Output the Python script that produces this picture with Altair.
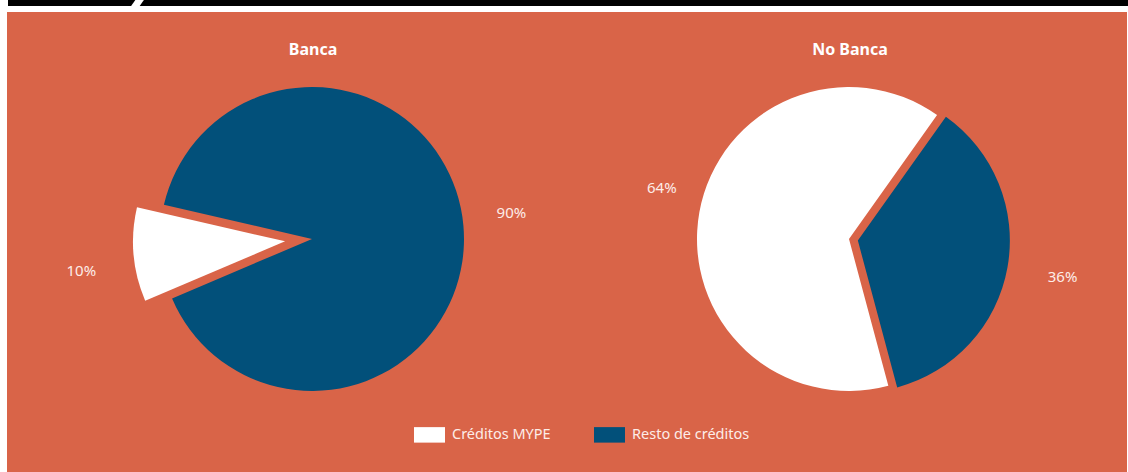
import math
import pandas as pd
import altair as alt

# ---- data ----
grupos = ["Banca", "No Banca"]
categorias = ["Créditos MYPE", "Resto de créditos"]
banca = [10, 90]
no_banca = [64, 36]
etiquetas_banca = ["10%", "90%"]
etiquetas_no_banca = ["64%", "36%"]

# ---- styling / layout ----
W, H = 1128, 472
ORANGE = "#D96448"
BLUE = "#02507A"
FONT = "Noto Sans, DejaVu Sans Condensed, sans-serif"
CENTROS = {"Banca": (312, 239), "No Banca": (849, 239)}
INICIO = {"Banca": 247.0, "No Banca": 165.0}      # start angle (deg, clockwise from 12h)
SEPARADO = {"Banca": (0, 27), "No Banca": (1, 9)}  # (exploded slice index, distance px)
RADIO = 152
# label placement tweaks per slice: (angle shift in deg, radius px)
ETIQ = {("Banca", 0): (-3.4, 206), ("Banca", 1): (-2.3, 201),
        ("No Banca", 0): (5.0, 194), ("No Banca", 1): (0.0, 208)}

rows = []
for g, vals, labs in [("Banca", banca, etiquetas_banca), ("No Banca", no_banca, etiquetas_no_banca)]:
    total = sum(vals)
    cum = 0.0
    cx, cy = CENTROS[g]
    start = math.radians(INICIO[g])
    for i, (cat, v, lab) in enumerate(zip(categorias, vals, labs)):
        a0 = start + cum / total * 2 * math.pi
        cum += v
        a1 = start + cum / total * 2 * math.pi
        mid = (a0 + a1) / 2
        d = SEPARADO[g][1] if SEPARADO[g][0] == i else 0
        shift, rl = ETIQ[(g, i)]
        rows.append({
            "grupo": g, "categoria": cat, "valor": v, "etiqueta": lab,
            "a0": a0, "a1": a1, "ang": mid + math.radians(shift), "rl": rl,
            "px": cx + d * math.sin(mid), "py": cy - d * math.cos(mid),
        })
df = pd.DataFrame(rows)

titulos = pd.DataFrame({"grupo": grupos,
                        "px": [CENTROS[g][0] + 1 for g in grupos],
                        "py": [55 for g in grupos]})

one = pd.DataFrame({"k": [0]})

fondo = alt.Chart(one).mark_rect(color=ORANGE).encode(
    x=alt.value(7), x2=alt.value(1127), y=alt.value(12), y2=alt.value(H))
barra = alt.Chart(one).mark_rect(color="black").encode(
    x=alt.value(8), x2=alt.value(W), y=alt.value(0), y2=alt.value(6))
corte = alt.Chart(one).mark_rule(color="white", strokeWidth=7).encode(
    x=alt.value(134), x2=alt.value(141), y=alt.value(8), y2=alt.value(-2))

color_scale = alt.Scale(domain=categorias, range=["#FFFFFF", BLUE])
leyenda = alt.Legend(
    orient="none", legendX=414, legendY=419, direction="horizontal", title=None,
    symbolType="M-1,-0.5H1V0.5H-1Z", symbolSize=961, symbolStrokeWidth=0,
    symbolOpacity=1, labelFont=FONT, labelFontSize=14.5, labelColor="#FDEDE8",
    labelOffset=7, columnPadding=43, padding=0, labelLimit=300,
)

arcos = alt.Chart(df).mark_arc(radius=RADIO, stroke=None).encode(
    x=alt.X("px:Q", scale=None, axis=None),
    y=alt.Y("py:Q", scale=None, axis=None),
    theta=alt.Theta("a0:Q", scale=None),
    theta2=alt.Theta2("a1:Q"),
    color=alt.Color("categoria:N", scale=color_scale, legend=leyenda),
)

etiquetas = alt.Chart(df).mark_text(
    font=FONT, fontSize=15, color="#FDEDE8",
    align="center", baseline="middle",
).encode(
    x=alt.X("px:Q", scale=None, axis=None),
    y=alt.Y("py:Q", scale=None, axis=None),
    theta=alt.Theta("ang:Q", scale=None),
    radius=alt.Radius("rl:Q", scale=None),
    text="etiqueta:N",
)

titulos_layer = alt.Chart(titulos).mark_text(
    font=FONT, fontSize=16, fontWeight="bold", color="white",
    align="center", baseline="alphabetic",
).encode(
    x=alt.X("px:Q", scale=None, axis=None),
    y=alt.Y("py:Q", scale=None, axis=None),
    text="grupo:N",
)

chart = alt.layer(fondo, barra, corte, arcos, etiquetas, titulos_layer).properties(
    width=W, height=H, padding=0, background="white",
    autosize=alt.AutoSizeParams(type="none"),
).configure_view(stroke=None)

chart.save("out.html", embed_options={"renderer": "svg", "actions": False})
